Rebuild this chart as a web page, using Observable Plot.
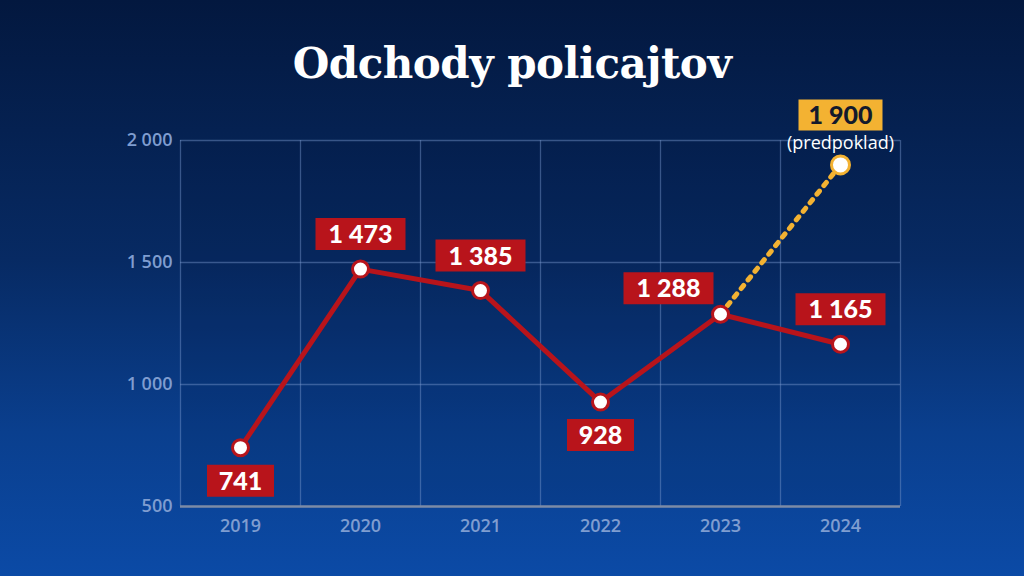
<!DOCTYPE html>
<html>
<head>
<meta charset="utf-8">
<script src="https://cdn.jsdelivr.net/npm/d3@7"></script>
<script src="https://cdn.jsdelivr.net/npm/@observablehq/plot@0.6"></script>
<style>
  html, body { margin: 0; padding: 0; }
  body {
    width: 1024px; height: 576px; overflow: hidden;
    background: linear-gradient(to bottom, #03183f 0%, #072a63 45%, #0a3f8e 75%, #0b4aa6 100%);
  }
  #title {
    height: 100px; width: 1024px; box-sizing: border-box;
    padding-top: 44px; text-align: center; color: #fff;
    font-family: "DejaVu Serif", serif; font-weight: bold; font-size: 42px;
    line-height: 40px; letter-spacing: -0.5px;
  }
  #chart svg { display: block; }
</style>
</head>
<body>
<div id="title"></div>
<div id="chart"></div>
<script>
// ---- data ----
const title = "Odchody policajtov";
const years = [2019, 2020, 2021, 2022, 2023, 2024];
const departures = [741, 1473, 1385, 928, 1288, 1165];
const forecastYears = [2023, 2024];
const forecastValues = [1288, 1900];
const forecastNote = "(predpoklad)";
const yTicks = [500, 1000, 1500, 2000];
const labelPlacement = ["below", "above", "above", "below", "left", "above"];

// ---- derived tables ----
const data = years.map((year, i) => ({year, value: departures[i], place: labelPlacement[i]}));
const forecast = forecastYears.map((year, i) => ({year, value: forecastValues[i]}));
const forecastPoint = [forecast[forecast.length - 1]];
const edges = [years[0] - 0.5, ...years.map(y => y + 0.5)];

document.getElementById("title").textContent = title;

const groupThousands = (v, sep) => v >= 1000
  ? `${Math.floor(v / 1000)}${sep}${String(v % 1000).padStart(3, "0")}`
  : String(v);
const fmtAxis = v => groupThousands(v, " ");
const fmtLabel = v => groupThousands(v, " ");

const box = (w, h) => ({draw(ctx) { ctx.rect(-w / 2, -h / 2, w, h); }});
const offsets = {below: [0, 33], above: [0, -35], left: [-52, -26]};

const RED = "#b8141b";
const GOLD = "#f3b232";
const GRID = "rgba(120,150,205,0.45)";
const TICK = "#7f9dd0";

const labelMarks = [];
for (const d of data) {
  const [dx, dy] = offsets[d.place];
  const w = d.value >= 1000 ? 90 : 67;
  labelMarks.push(
    Plot.dot([d], {x: "year", y: "value", symbol: box(w, 32), dx, dy, fill: RED, stroke: "none"}),
    Plot.text([d], {x: "year", y: "value", text: d => fmtLabel(d.value), dx, dy: dy + 1,
      fill: "white", fontSize: 25, fontWeight: 900, fontFamily: "Lato"})
  );
}
labelMarks.push(
  Plot.dot(forecastPoint, {x: "year", y: "value", symbol: box(84, 31), dy: -50, fill: GOLD, stroke: "none"}),
  Plot.text(forecastPoint, {x: "year", y: "value", text: d => fmtLabel(d.value), dy: -49,
    fill: "#141a2c", fontSize: 25, fontWeight: 900, fontFamily: "Lato"}),
  Plot.text(forecastPoint, {x: "year", y: "value", text: () => forecastNote, dy: -22,
    fill: "white", fontSize: 18, fontFamily: "Open Sans"})
);

const chart = Plot.plot({
  width: 1024,
  height: 476,
  marginLeft: 180,
  marginRight: 124,
  marginTop: 40,
  marginBottom: 70,
  style: {background: "transparent", color: TICK, fontFamily: "Open Sans", overflow: "visible"},
  x: {domain: [edges[0], edges[edges.length - 1]]},
  y: {domain: [yTicks[0], yTicks[yTicks.length - 1]]},
  marks: [
    Plot.frame({fill: "#001030", fillOpacity: 0.12, stroke: "none"}),
    Plot.ruleX(edges, {stroke: GRID, strokeWidth: 1.3}),
    Plot.ruleY(yTicks.slice(1), {stroke: GRID, strokeWidth: 1.3}),
    Plot.ruleY([yTicks[0]], {stroke: "#7c8ba6", strokeWidth: 2.5}),
    Plot.axisX({ticks: years, tickFormat: d => String(d), tickSize: 0, tickPadding: 13,
      fontSize: 18, fontWeight: 600, label: null}),
    Plot.axisY({ticks: yTicks, tickFormat: fmtAxis, tickSize: 0, tickPadding: 8,
      fontSize: 18, fontWeight: 600, label: null}),
    Plot.line(forecast, {x: "year", y: "value", stroke: GOLD, strokeWidth: 5, strokeDasharray: "4 7"}),
    Plot.line(data, {x: "year", y: "value", stroke: RED, strokeWidth: 5}),
    Plot.dot(data, {x: "year", y: "value", r: 8, fill: "white", stroke: RED, strokeWidth: 3}),
    Plot.dot(forecastPoint, {x: "year", y: "value", r: 9, fill: "white", stroke: GOLD, strokeWidth: 3}),
    ...labelMarks
  ]
});
document.getElementById("chart").append(chart);
</script>
</body>
</html>
